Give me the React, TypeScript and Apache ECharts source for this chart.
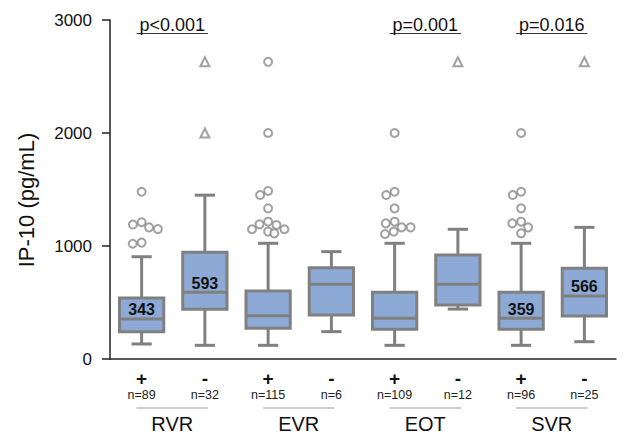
import React, { useEffect, useRef } from "react";
import * as echarts from "echarts";

const categories = ["RVR+", "RVR-", "EVR+", "EVR-", "EOT+", "EOT-", "SVR+", "SVR-"];
const signLabels = ["+", "-", "+", "-", "+", "-", "+", "-"];
const nLabels = ["n=89", "n=32", "n=115", "n=6", "n=109", "n=12", "n=96", "n=25"];
const groupNames = ["RVR", "EVR", "EOT", "SVR"];
const pValues = ["p<0.001", "", "p=0.001", "p=0.016"];
const yTicks = [0, 1000, 2000, 3000];
// [min, Q1, median, Q3, max]
const boxStats = [
  [133, 242, 354, 540, 905],
  [121, 440, 590, 944, 1450],
  [121, 272, 383, 602, 1024],
  [242, 389, 661, 808, 950],
  [121, 263, 360, 590, 1024],
  [442, 478, 661, 920, 1148],
  [121, 263, 360, 590, 1024],
  [153, 380, 558, 802, 1165],
];
const medianLabels = ["343", "593", "", "", "", "", "359", "566"];
const circleOutliers: [number, number][] = [
  [0, 1480], [0, 1210], [0, 1190], [0, 1165], [0, 1150], [0, 1030], [0, 1020],
  [2, 2630], [2, 2000], [2, 1487], [2, 1451], [2, 1333], [2, 1215], [2, 1192], [2, 1186], [2, 1148], [2, 1148], [2, 1127], [2, 1112],
  [4, 2000], [4, 1480], [4, 1451], [4, 1333], [4, 1215], [4, 1200], [4, 1165], [4, 1165], [4, 1127], [4, 1106],
  [6, 2000], [6, 1480], [6, 1451], [6, 1333], [6, 1215], [6, 1200], [6, 1165], [6, 1112],
];
const triangleOutliers: [number, number][] = [
  [1, 2630], [1, 2000], [5, 2630], [7, 2630],
];

const FONT = '"Liberation Sans", Arial, sans-serif';
const GRAY = "#808080";
const FILL = "#8daad6";

export default function App() {
  const ref = useRef<HTMLDivElement>(null);
  useEffect(() => {
    if (!ref.current) return;
    const chart = echarts.init(ref.current, undefined, { renderer: "svg" });
    chart.setOption({
      animation: false,
      backgroundColor: "#fff",
      grid: { left: 110, right: 9, top: 20, bottom: 82 },
      xAxis: {
        type: "category",
        data: categories,
        boundaryGap: true,
        jitter: 44,
        jitterOverlap: false,
        jitterMargin: 1,
        axisLine: { lineStyle: { color: "#222", width: 1.5 } },
        axisTick: { alignWithLabel: true, length: 8, lineStyle: { color: "#222", width: 1.5 } },
        axisLabel: {
          margin: 10,
          interval: 0,
          formatter: (_v: string, i: number) => `{s|${signLabels[i]}}\n{n|${nLabels[i]}}`,
          rich: {
            s: { fontSize: 19, fontWeight: "bold", lineHeight: 18, color: "#111", fontFamily: FONT },
            n: { fontSize: 12.5, lineHeight: 16, color: "#222", fontFamily: FONT },
          },
        },
        splitLine: { show: false },
      },
      yAxis: {
        type: "value",
        min: yTicks[0],
        max: yTicks[yTicks.length - 1],
        interval: 1000,
        axisLine: { show: true, lineStyle: { color: "#222", width: 1.5 } },
        axisTick: { show: true, length: 8, lineStyle: { color: "#222", width: 1.5 } },
        axisLabel: {
          margin: 18,
          fontSize: 17,
          color: "#111",
          fontFamily: FONT,
          formatter: (v: number) => String(v),
        },
        splitLine: { show: false },
      },
      series: [
        {
          type: "custom",
          data: boxStats.map((s, i) => [i, ...s]),
          encode: { x: 0, y: [1, 2, 3, 4, 5] },
          renderItem: (params: any, api: any) => {
            const idx = api.value(0);
            const pMin = api.coord([idx, api.value(1)]);
            const pQ1 = api.coord([idx, api.value(2)]);
            const pMed = api.coord([idx, api.value(3)]);
            const pQ3 = api.coord([idx, api.value(4)]);
            const pMax = api.coord([idx, api.value(5)]);
            const band = api.size([1, 0])[0];
            const bw = band * 0.7;
            const cw = band * 0.32;
            const x = pMin[0];
            const st = { stroke: GRAY, lineWidth: 3, fill: null };
            const children: any[] = [
              { type: "line", shape: { x1: x, y1: pMax[1], x2: x, y2: pQ3[1] }, style: st },
              { type: "line", shape: { x1: x, y1: pQ1[1], x2: x, y2: pMin[1] }, style: st },
              { type: "line", shape: { x1: x - cw / 2, y1: pMax[1], x2: x + cw / 2, y2: pMax[1] }, style: st },
              { type: "line", shape: { x1: x - cw / 2, y1: pMin[1], x2: x + cw / 2, y2: pMin[1] }, style: st },
              {
                type: "rect",
                shape: { x: x - bw / 2, y: pQ3[1], width: bw, height: pQ1[1] - pQ3[1] },
                style: { fill: FILL, stroke: GRAY, lineWidth: 3 },
              },
              { type: "line", shape: { x1: x - bw / 2, y1: pMed[1], x2: x + bw / 2, y2: pMed[1] }, style: st },
            ];
            const lbl = medianLabels[params.dataIndex];
            if (lbl) {
              children.push({
                type: "text",
                x: x,
                y: pMed[1] - 9,
                style: {
                  text: lbl,
                  fill: "#111",
                  font: `bold 16px ${FONT}`,
                  align: "center",
                  verticalAlign: "middle",
                },
              });
            }
            return { type: "group", children };
          },
          z: 2,
        },
        {
          type: "scatter",
          data: circleOutliers,
          symbol: "emptyCircle",
          symbolSize: 8,
          itemStyle: { color: "#8a8a8a", borderWidth: 1.6 },
          z: 3,
        },
        {
          type: "scatter",
          data: triangleOutliers,
          symbol: "emptyTriangle",
          symbolSize: 9,
          itemStyle: { color: "#8a8a8a", borderWidth: 1.6 },
          z: 3,
        },
      ],
    });

    const graphics: any[] = [];
    graphics.push({
      type: "text",
      x: 26,
      y: 200,
      rotation: Math.PI / 2,
      style: {
        text: "IP-10 (pg/mL)",
        font: `22px ${FONT}`,
        fill: "#111",
        align: "center",
        verticalAlign: "middle",
      },
    });
    groupNames.forEach((g, gi) => {
      const x1 = chart.convertToPixel({ xAxisIndex: 0 }, gi * 2) as number;
      const x2 = chart.convertToPixel({ xAxisIndex: 0 }, gi * 2 + 1) as number;
      const l = x1 - 5;
      const r = x2 + 3;
      const cx = (l + r) / 2;
      graphics.push({
        type: "line",
        shape: { x1: l, y1: 408, x2: r, y2: 408 },
        style: { stroke: "#999", lineWidth: 1 },
      });
      graphics.push({
        type: "text",
        x: cx,
        y: 424,
        style: { text: g, font: `20px ${FONT}`, fill: "#111", align: "center", verticalAlign: "middle" },
      });
      if (pValues[gi]) {
        graphics.push({
          type: "line",
          shape: { x1: l, y1: 33.5, x2: r, y2: 33.5 },
          style: { stroke: "#333", lineWidth: 1.2 },
        });
        graphics.push({
          type: "text",
          x: cx,
          y: 25,
          style: { text: pValues[gi], font: `18px ${FONT}`, fill: "#111", align: "center", verticalAlign: "middle" },
        });
      }
    });
    chart.setOption({ graphic: graphics });

    return () => chart.dispose();
  }, []);
  return (
    <div
      ref={ref}
      style={{ position: "fixed", left: 0, top: 0, width: 625, height: 441 }}
    />
  );
}
